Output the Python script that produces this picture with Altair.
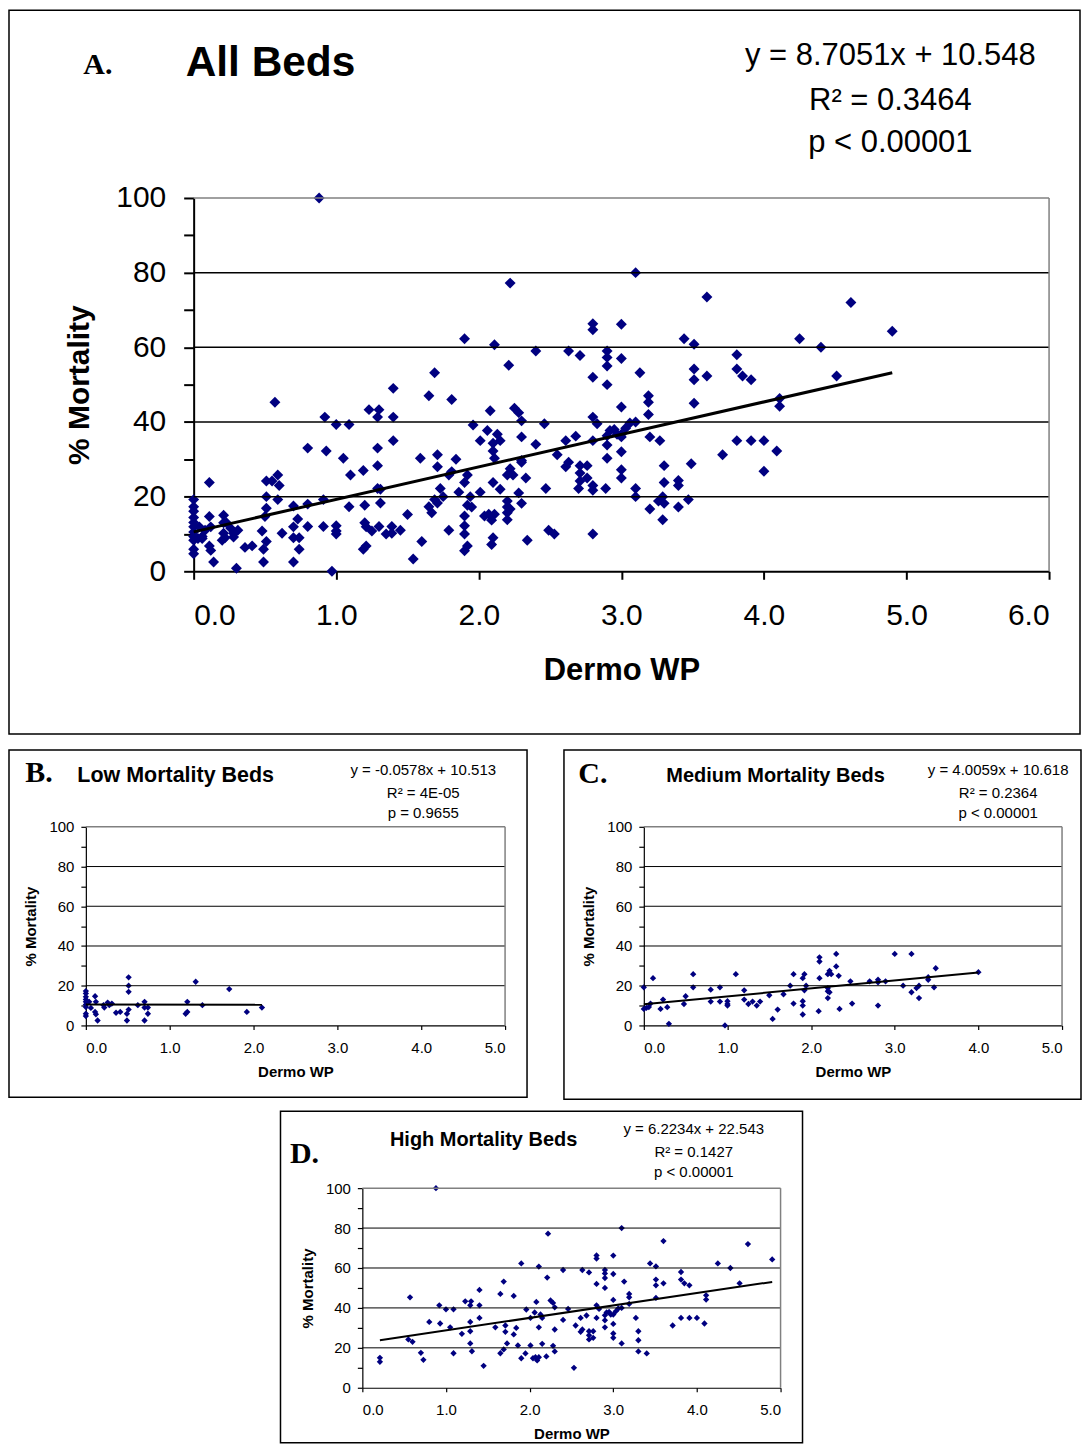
import altair as alt
import pandas as pd

# ---------------- data ----------------
low_x = [0, 0, 0, 0, 0, 0, 0, 0, 0, 0.04, 0.06, 0.11, 0.12, 0.11, 0.12, 0.14, 0.21, 0.22,
         0.26, 0.31, 0.28, 0.36, 0.41, 0.51, 0.51, 0.51, 0.51, 0.49, 0.49, 0.62, 0.70, 0.70,
         0.74, 0.74, 0.70, 1.19, 1.21, 1.21, 1.31, 1.39, 1.71, 1.92, 2.10]
low_y = [17.3, 16.1, 14.4, 13.1, 11.9, 10.5, 9.3, 5.9, 4.7, 11.9, 8.8, 14.7, 11.9, 6.8, 5.6, 2.5, 10.2, 9.0,
         11.5, 11.0, 10.2, 6.4, 6.8, 24.2, 20.0, 16.9, 8.0, 5.9, 2.5, 10.2, 11.9, 9.0,
         9.0, 5.9, 2.5, 5.9, 6.8, 11.9, 22.0, 10.2, 18.3, 6.8, 9.0]
med_x = [0.0, 0.0, 0.03, 0.06, 0.08, 0.11, 0.20, 0.23, 0.28, 0.30, 0.48, 0.50, 0.59, 0.59, 0.80, 0.80,
         0.91, 0.91, 0.97, 1.00, 1.00, 1.00, 1.10, 1.20, 1.20, 1.25, 1.30, 1.35, 1.39, 1.50, 1.54, 1.60,
         1.67, 1.75, 1.79, 1.79, 1.90, 1.92, 1.92, 1.90, 1.90, 1.90, 1.94,
         2.10, 2.10, 2.10, 2.09, 2.20, 2.20, 2.22, 2.20, 2.20, 2.22, 2.24, 2.30, 2.30, 2.33, 2.34, 2.47,
         2.49, 2.70, 2.80, 2.80, 2.80, 2.89, 3.00, 3.10, 3.20, 3.20, 3.26, 3.29, 3.29, 3.40, 3.40, 3.47,
         3.49, 4.00]
med_y = [19.2, 8.3, 8.8, 9.3, 11.0, 23.8, 8.3, 13.0, 9.2, 0.8, 10.8, 14.7, 25.8, 19.2, 18.0, 12.0,
         19.2, 12.0, 0.0, 12.2, 10.8, 10.0, 25.8, 17.7, 13.0, 10.8, 12.0, 10.0, 12.0, 15.2, 3.3, 8.0,
         15.7, 20.0, 25.8, 11.0, 23.8, 25.8, 17.7, 12.2, 10.0, 5.5, 20.0,
         34.3, 32.2, 23.8, 7.2, 18.8, 17.2, 16.7, 13.8, 25.8, 27.5, 25.8, 36.0, 29.7, 25.0, 8.3, 22.2,
         11.0, 22.2, 23.0, 21.7, 10.0, 22.2, 36.0, 20.0, 36.0, 16.7, 18.8, 20.0, 13.8, 24.3, 23.0, 19.2,
         28.8, 26.8]
high_x = [0.88, 0.21, 0.21, 0.57, 0.55, 0.60, 0.70, 0.73, 0.80, 0.92, 0.93, 1.00, 1.09, 1.05, 1.09, 1.19,
          1.23, 1.30, 1.29, 1.29, 1.29, 1.29, 1.31, 1.40, 1.40, 1.40, 1.45, 1.59, 1.65, 1.69, 1.65, 1.69,
          1.71, 1.71, 1.73, 1.81, 1.81, 1.84, 1.86, 1.90, 1.90, 1.95, 1.96, 2.01, 2.01, 2.04, 2.07, 2.09,
          2.11, 2.06, 2.08, 2.11, 2.11, 2.13, 2.15, 2.15, 2.20, 2.21, 2.22, 2.25, 2.28, 2.30, 2.28, 2.30,
          2.30, 2.40, 2.40, 2.46, 2.53, 2.55, 2.61, 2.61, 2.63, 2.63, 2.71, 2.68, 2.71, 2.71, 2.71, 2.76,
          2.76, 2.80, 2.80, 2.80, 2.80, 2.80, 2.83, 2.90, 2.90, 2.90, 2.90, 2.90, 2.90, 2.90, 2.92, 2.95,
          2.97, 3.00, 3.00, 3.00, 3.00, 3.00, 3.00, 3.00, 3.03, 3.06, 3.10, 3.10, 3.10, 3.13, 3.19, 3.19,
          3.19, 3.27, 3.30, 3.30, 3.30, 3.40, 3.44, 3.51, 3.51, 3.51, 3.51, 3.60, 3.60, 3.71, 3.81, 3.81,
          3.85, 3.91, 3.81, 3.91, 4.00, 4.09, 4.11, 4.11, 4.25, 4.40, 4.51, 4.61, 4.90]
high_y = [100.0, 15.0, 13.0, 45.3, 24.2, 23.0, 17.5, 14.0, 33.0, 41.3, 32.2, 39.3, 39.3, 30.3, 17.3, 27.0,
          43.3, 43.3, 41.3, 33.0, 28.3, 22.2, 18.3, 49.0, 41.3, 35.0, 11.0, 30.3, 47.0, 53.2, 17.3, 19.2,
          31.2, 28.0, 22.2, 46.0, 26.7, 30.0, 21.2, 62.3, 14.8, 17.2, 39.2, 21.2, 35.0, 14.8, 15.3, 13.7,
          15.3, 37.7, 43.0, 60.7, 30.3, 36.7, 35.0, 22.0, 15.7, 55.2, 77.2, 43.7, 42.5, 40.3, 21.0, 18.2,
          29.2, 59.0, 34.0, 39.5, 10.0, 31.2, 35.0, 28.0, 29.2, 59.0, 57.8, 36.2, 28.3, 26.3, 24.2, 28.3,
          25.0, 66.3, 64.7, 52.0, 41.3, 35.0, 39.5, 59.0, 57.3, 55.0, 50.0, 36.3, 33.8, 30.3, 37.7, 38.0,
          36.7, 66.2, 57.0, 44.0, 32.0, 27.2, 25.0, 36.7, 38.3, 39.7, 80.0, 40.0, 22.2, 53.2, 47.0, 45.3,
          42.0, 35.0, 28.3, 23.8, 18.2, 17.2, 62.3, 60.8, 54.2, 51.3, 45.0, 73.5, 52.3, 31.2, 58.0, 54.2,
          52.3, 51.3, 35.0, 35.0, 35.0, 32.2, 46.3, 44.2, 62.3, 60.0, 52.3, 72.0, 64.3]

all_x = low_x + med_x + high_x
all_y = low_y + med_y + high_y

slopes = [8.7051, -0.0578, 4.0059, 6.2234]
intercepts = [10.548, 10.513, 10.618, 22.543]

eq_a = ["y = 8.7051x + 10.548", "R\u00b2 = 0.3464", "p < 0.00001"]
eq_b = ["y = -0.0578x + 10.513", "R\u00b2 = 4E-05", "p = 0.9655"]
eq_c = ["y = 4.0059x + 10.618", "R\u00b2 = 0.2364", "p < 0.00001"]
eq_d = ["y = 6.2234x + 22.543", "R\u00b2 = 0.1427", "p < 0.00001"]

y_ticks = [0, 10, 20, 30, 40, 50, 60, 70, 80, 90, 100]
grid_vals = [20, 40, 60, 80]
x_ticks_a = [0, 1, 2, 3, 4, 5, 6]
x_ticks_small = [0, 1, 2, 3, 4, 5]

FONT = "Liberation Sans"
SERIF = "Liberation Serif"
NAVY = "#000080"
ONE = pd.DataFrame({"k": [0]})


def text_layer(txt, x, y, size, bold=False, font=FONT):
    return alt.Chart(ONE).mark_text(
        text=txt, font=font, fontSize=size, fontWeight="bold" if bold else "normal",
        align="center", baseline="alphabetic", color="black"
    ).encode(x=alt.value(x), y=alt.value(y))


def panel(xs, ys, slope, intercept, eq, letter, title, st):
    PW, PH, L, W, T, H = st["PW"], st["PH"], st["L"], st["W"], st["T"], st["H"]
    xmax = st["xmax"]
    pts = pd.DataFrame({"x": xs, "y": ys})
    x0, x1 = min(xs), max(xs)
    trend = pd.DataFrame({"x": [x0, x1], "y": [slope * x0 + intercept, slope * x1 + intercept]})
    grid = pd.DataFrame({"g": grid_vals, "a": [0] * len(grid_vals), "b": [xmax] * len(grid_vals)})
    frame_top = pd.DataFrame({"g": [100], "a": [0], "b": [xmax]})
    frame_right = pd.DataFrame({"x": [xmax], "lo": [0], "hi": [100]})

    xscale = alt.Scale(domain=[0, xmax], range=[L, L + W], nice=False, zero=False)
    yscale = alt.Scale(domain=[0, 100], range=[T + H, T], nice=False, zero=False)
    common = dict(grid=False, labelFont=FONT, titleFont=FONT, labelFontSize=st["lab"],
                  labelColor="black", titleColor="black", titleFontWeight="bold",
                  tickColor="black", domainColor="black",
                  tickWidth=st["dw"], domainWidth=st["dw"])
    xaxis = alt.Axis(title="Dermo WP", **common, labelPadding=st["xlp"], titleFontSize=st["xt"],
                     titlePadding=st["xtp"], tickSize=st["xts"], values=st["xticks"], format=".1f",
                     offset=-(PH - T - H))
    yaxis = alt.Axis(title="% Mortality", **common, labelPadding=st["ylp"], titleFontSize=st["yt"],
                     titlePadding=st["ytp"], tickSize=st["yts"], values=y_ticks,
                     labelExpr="datum.value % 20 === 0 ? datum.label : ''", offset=-L)

    layers = []
    layers.append(alt.Chart(pts).mark_point(
        shape="diamond", filled=True, color=NAVY, opacity=1, size=st["ms"]
    ).encode(x=alt.X("x:Q", scale=xscale, axis=xaxis), y=alt.Y("y:Q", scale=yscale, axis=yaxis)))
    layers.append(alt.Chart(grid).mark_rule(color="black", strokeWidth=st["gw"]).encode(
        x=alt.X("a:Q", scale=xscale, axis=xaxis), x2="b:Q",
        y=alt.Y("g:Q", scale=yscale, axis=yaxis)))
    layers.append(alt.Chart(frame_top).mark_rule(color="#808080", strokeWidth=1.5).encode(
        x=alt.X("a:Q", scale=xscale, axis=xaxis), x2="b:Q",
        y=alt.Y("g:Q", scale=yscale, axis=yaxis)))
    layers.append(alt.Chart(frame_right).mark_rule(color="#808080", strokeWidth=1.5).encode(
        x=alt.X("x:Q", scale=xscale, axis=xaxis),
        y=alt.Y("lo:Q", scale=yscale, axis=yaxis), y2="hi:Q"))
    layers.append(alt.Chart(trend).mark_line(color="black", strokeWidth=st["tw"]).encode(
        x=alt.X("x:Q", scale=xscale, axis=xaxis), y=alt.Y("y:Q", scale=yscale, axis=yaxis)))
    bx0, bx1 = st["bx"]
    layers.append(alt.Chart(ONE).mark_rect(filled=False, color="black", strokeWidth=1.5).encode(
        x=alt.value(bx0), x2=alt.value(bx1), y=alt.value(0), y2=alt.value(PH)))
    lx, ly, ls = st["letter"]
    layers.append(text_layer(letter, lx, ly, ls, bold=True, font=SERIF))
    tx, ty, ts = st["title"]
    layers.append(text_layer(title, tx, ty, ts, bold=True))
    ex, eys, es = st["eq"]
    for line, ey in zip(eq, eys):
        layers.append(text_layer(line, ex, ey, es))
    return alt.layer(*layers).properties(width=PW, height=PH)


small = dict(xmax=5, xticks=x_ticks_small, lab=15, xt=15, yt=15, xlp=11, ylp=7, xtp=9, ytp=10,
             xts=4, yts=5, dw=1.2, gw=1, ms=40, tw=2)

st_a = dict(PW=1073, PH=725, L=185, W=857, T=188, H=374, bx=(0, 1073),
            xmax=6, xticks=x_ticks_a, lab=30, xt=31, yt=30, xlp=21, ylp=18, xtp=25,
            ytp=21, xts=8, yts=10, dw=2, gw=1.5, ms=120, tw=3,
            letter=(89, 64, 30), title=(262, 66, 42.5), eq=(883, [55, 100, 142], 31))
st_b = dict(small, PW=519, PH=348, L=77, W=420, T=77, H=199, bx=(0, 519),
            letter=(30, 32, 30), title=(167, 32, 21.5), eq=(415, [25, 48, 68], 15))
st_c = dict(small, PW=518, PH=350, L=80, W=419, T=77, H=199, bx=(0, 518),
            letter=(29, 33, 30), title=(212, 32, 20), eq=(435, [25, 48, 68], 15))
st_d = dict(small, PW=795, PH=332, L=354, W=419, T=77, H=200, bx=(272, 795),
            letter=(296, 52, 30), title=(475.5, 35, 20), eq=(686, [23, 46, 66], 15))

pa = panel(all_x, all_y, slopes[0], intercepts[0], eq_a, "A.", "All Beds", st_a)
pb = panel(low_x, low_y, slopes[1], intercepts[1], eq_b, "B.", "Low Mortality Beds", st_b)
pc = panel(med_x, med_y, slopes[2], intercepts[2], eq_c, "C.", "Medium Mortality Beds", st_c)
pd_ = panel(high_x, high_y, slopes[3], intercepts[3], eq_d, "D.", "High Mortality Beds", st_d)

row_bc = alt.hconcat(pb, pc, spacing=35)
lower = alt.vconcat(row_bc, pd_, spacing=10)
chart = alt.vconcat(pa, lower, spacing=14).properties(padding=0).configure_view(strokeWidth=0)

chart.save("out.html", embed_options={"renderer": "svg", "actions": False})
